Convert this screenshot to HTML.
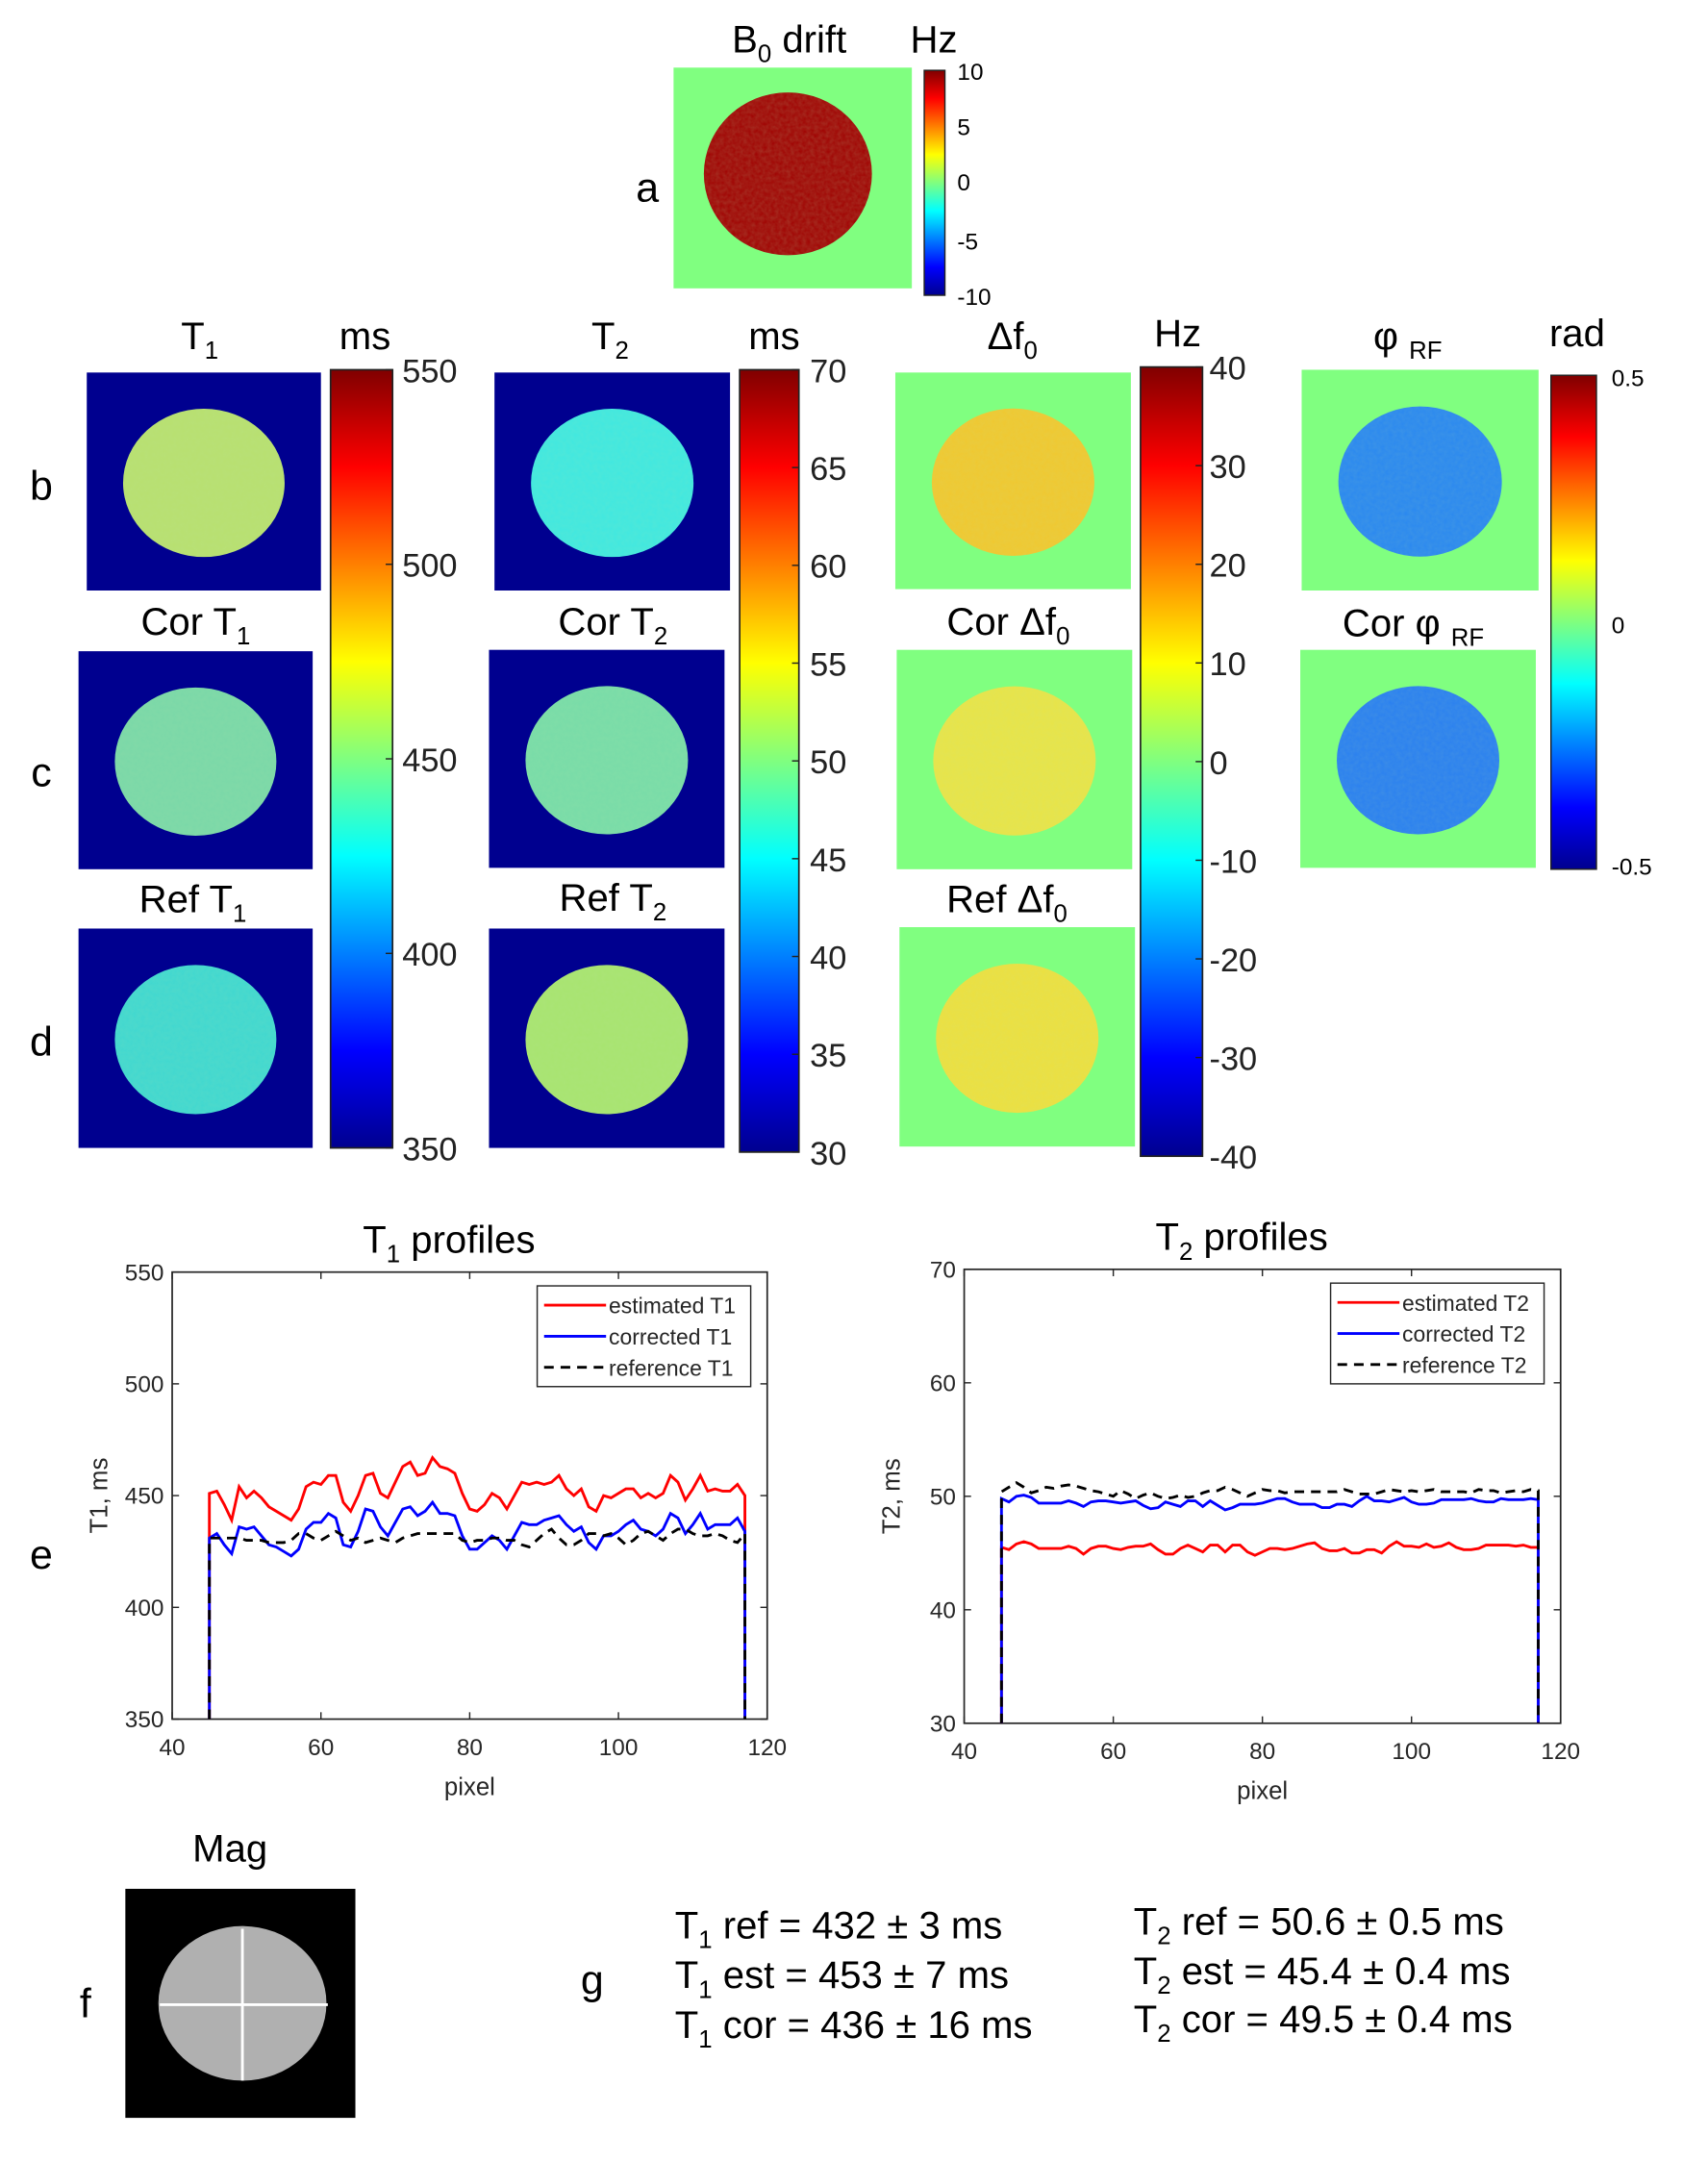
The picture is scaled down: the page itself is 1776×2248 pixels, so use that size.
<!DOCTYPE html>
<html><head><meta charset="utf-8"><style>
html,body{margin:0;padding:0;background:#fff;width:1776px;height:2248px;overflow:hidden}
svg text{font-family:"Liberation Sans",sans-serif}
</style></head><body>
<svg id="fig" width="1776" height="2248" viewBox="0 0 1240 1567" preserveAspectRatio="none" xmlns="http://www.w3.org/2000/svg">
<defs>
<linearGradient id="jet" x1="0" y1="1" x2="0" y2="0">
<stop offset="0" stop-color="#00008f"/><stop offset="0.125" stop-color="#0000ff"/><stop offset="0.375" stop-color="#00ffff"/><stop offset="0.625" stop-color="#ffff00"/><stop offset="0.875" stop-color="#ff0000"/><stop offset="1" stop-color="#800000"/>
</linearGradient>
<filter id="noise" x="0" y="0" width="100%" height="100%">
<feTurbulence type="fractalNoise" baseFrequency="0.35" numOctaves="2" seed="3"/>
<feColorMatrix type="matrix" values="0 0 0 0 0.5  0 0 0 0 0.8  0 0 0 0 0.4  0 0 0 0.35 0"/>
<feComposite in2="SourceGraphic" operator="in"/>
</filter>
</defs>

<g>
<text x="573" y="38" font-size="28" text-anchor="middle">B<tspan font-size="18" dy="7">0</tspan><tspan dy="-7"> drift</tspan></text>
<text x="678" y="38" font-size="28" text-anchor="middle">Hz</text>
<rect x="489" y="49" width="173" height="160" fill="#80ff80"/>
<ellipse cx="572" cy="126" rx="61" ry="59" fill="#a00000"/>
<ellipse cx="572" cy="126" rx="61" ry="59" fill="#b01000" filter="url(#noise)" opacity="0.6"/>
<rect x="671" y="51" width="15" height="163" fill="url(#jet)" stroke="#222" stroke-width="1"/>
<text x="695" y="58" font-size="17">10</text><text x="695" y="98" font-size="17">5</text><text x="695" y="138" font-size="17">0</text><text x="695" y="181" font-size="17">-5</text><text x="695" y="221" font-size="17">-10</text>
<text x="470" y="146" font-size="30" text-anchor="middle">a</text>
</g>

<g font-size="30" text-anchor="middle">
<text x="30" y="362">b</text>
<text x="30" y="570">c</text>
<text x="30" y="765">d</text>
<text x="30" y="1137">e</text>
<text x="62" y="1462">f</text>
<text x="430" y="1445">g</text>
</g>

<g id="maps"></g>

<g>
<text x="167" y="1349" font-size="28" text-anchor="middle">Mag</text>
<rect x="91" y="1369" width="167" height="166" fill="#000"/>
<ellipse cx="176" cy="1452" rx="61" ry="56" fill="#b0b0b0"/>
<line x1="176" y1="1398" x2="176" y2="1508" stroke="#fff" stroke-width="2"/>
<line x1="116" y1="1453" x2="238" y2="1453" stroke="#fff" stroke-width="2"/>
</g>

<g font-size="28">
<text x="490" y="1405">T<tspan font-size="18" dy="7">1</tspan><tspan dy="-7"> ref = 432 ± 3 ms</tspan></text>
<text x="490" y="1441">T<tspan font-size="18" dy="7">1</tspan><tspan dy="-7"> est = 453 ± 7 ms</tspan></text>
<text x="490" y="1477">T<tspan font-size="18" dy="7">1</tspan><tspan dy="-7"> cor = 436 ± 16 ms</tspan></text>
<text x="823" y="1402">T<tspan font-size="18" dy="7">2</tspan><tspan dy="-7"> ref = 50.6 ± 0.5 ms</tspan></text>
<text x="823" y="1438">T<tspan font-size="18" dy="7">2</tspan><tspan dy="-7"> est = 45.4 ± 0.4 ms</tspan></text>
<text x="823" y="1473">T<tspan font-size="18" dy="7">2</tspan><tspan dy="-7"> cor = 49.5 ± 0.4 ms</tspan></text>
</g>

<g id="plots"></g>
</svg>
<script>
const pixels = [];
for (let p = 45; p <= 117; p++) pixels.push(p);
const t1Estimated = [451,452,446,439,454,449,452,449,445,443,441,439,444,454,456,455,459,459,447,443,450,459,460,451,449,456,463,465,459,460,467,463,462,460,451,444,443,446,451,449,444,450,456,455,456,455,456,459,453,450,453,445,443,450,449,451,453,453,449,451,449,451,459,456,448,453,459,452,453,452,452,455,450];
const t1Corrected = [431,433,428,424,436,435,436,432,428,427,425,423,426,435,438,438,442,440,428,427,434,444,443,436,432,438,444,445,441,443,447,442,442,441,432,426,426,429,432,430,426,432,438,437,437,439,440,441,437,434,436,429,426,432,432,434,437,439,435,434,432,435,442,440,433,437,442,435,437,437,437,440,434];
const t1Reference = [431,431,431,431,431,430,430,430,429,429,429,430,433,433,431,430,432,434,432,430,431,429,430,431,430,429,431,432,433,433,433,433,433,433,430,429,430,430,431,431,430,430,428,427,430,433,435,431,428,428,430,433,433,432,433,431,428,430,433,434,432,430,433,435,435,433,432,432,433,432,430,429,433];
const t2Estimated = [45.5,45.3,45.8,46.0,45.8,45.4,45.4,45.4,45.4,45.6,45.4,44.9,45.4,45.6,45.6,45.4,45.3,45.5,45.6,45.6,45.8,45.3,44.9,44.9,45.4,45.7,45.4,45.1,45.7,45.7,45.1,45.7,45.7,45.1,44.8,45.1,45.4,45.4,45.3,45.4,45.6,45.8,45.9,45.4,45.2,45.2,45.4,45.0,45.0,45.3,45.3,45.0,45.6,46.0,45.6,45.6,45.5,45.8,45.5,45.6,45.9,45.5,45.3,45.3,45.4,45.7,45.7,45.7,45.7,45.6,45.7,45.5,45.5];
const t2Corrected = [49.8,49.5,50.0,50.1,49.9,49.4,49.4,49.4,49.4,49.6,49.4,49.1,49.5,49.6,49.6,49.5,49.4,49.5,49.6,49.2,48.9,49.0,49.5,49.3,49.1,49.6,49.6,49.1,49.6,49.2,48.8,49.0,49.3,49.3,49.3,49.4,49.6,49.8,49.8,49.5,49.3,49.3,49.3,49.0,49.0,49.3,49.3,49.1,49.6,50.0,49.6,49.6,49.5,49.7,49.9,49.5,49.3,49.3,49.4,49.7,49.7,49.7,49.7,49.8,49.6,49.5,49.5,49.8,49.7,49.7,49.7,49.8,49.7];
const t2Reference = [50.4,50.8,51.2,50.8,50.3,50.5,50.8,50.7,50.9,51.0,50.9,50.7,50.5,50.4,50.2,50.0,50.5,50.2,49.8,50.1,50.3,50.0,49.8,49.9,50.1,49.9,50.0,50.3,50.5,50.5,50.8,50.6,50.3,50.0,50.3,50.6,50.5,50.5,50.3,50.4,50.4,50.4,50.4,50.4,50.4,50.4,50.6,50.4,50.2,50.2,50.2,50.4,50.6,50.5,50.4,50.5,50.4,50.5,50.6,50.4,50.4,50.4,50.4,50.3,50.6,50.5,50.5,50.3,50.4,50.5,50.4,50.6,50.5];
const xTicks = [40,60,80,100,120];
const t1YTicks = [350,400,450,500,550];
const t2YTicks = [30,40,50,60,70];

const NS = 'http://www.w3.org/2000/svg';
function el(tag, attrs, parent, text) {
  const e = document.createElementNS(NS, tag);
  for (const k in attrs) e.setAttribute(k, attrs[k]);
  if (text !== undefined) e.textContent = text;
  parent.appendChild(e);
  return e;
}

const maps = document.getElementById('maps');
function mapImg(name, x, y, w, h, bg, fill) {
  const g = el('g', {}, maps);
  
  
  el('rect', {x:x, y:y, width:w, height:h, fill:bg}, g);
  el('ellipse', {cx:x+w/2, cy:y+h/2+1, rx:w*0.345, ry:h*0.34, fill:fill}, g);
  el('ellipse', {cx:x+w/2, cy:y+h/2+1, rx:w*0.345, ry:h*0.34, fill:fill, filter:'url(#noise)', opacity:0.35}, g);
}
function title(name, x, y, main, sub) {
  const t = el('text', {x:x, y:y, 'font-size':28, 'text-anchor':'middle'}, maps);
  
  
  t.textContent = main;
  el('tspan', {'font-size':18, dy:7}, t, sub);
}
function cbar(name, x, y, w, h, labels, lx, unit, ux, uy) {
  const g = el('g', {}, maps);
  
  
  el('rect', {x:x, y:y, width:w, height:h, fill:'url(#jet)', stroke:'#222', 'stroke-width':1.2}, g);
  labels.forEach((l, i) => {
    const yy = y + h * i / (labels.length - 1);
    el('line', {x1:x+w-5, x2:x+w, y1:yy, y2:yy, stroke:'#222'}, g);
    el('text', {x:lx, y:yy+9, 'font-size':24, fill:'#222'}, g, l);
  });
  el('text', {x:ux, y:uy, 'font-size':28, 'text-anchor':'middle'}, g, unit);
}
const DB = '#00008f', GR = '#80ff80';
title('t1-title', 145, 253, 'T', '1');
title('cor-t1-title', 142, 460, 'Cor T', '1');
title('ref-t1-title', 140, 661, 'Ref T', '1');
mapImg('t1-map', 63, 270, 170, 158, DB, '#b8e070');
mapImg('cor-t1-map', 57, 472, 170, 158, DB, '#7ad8a8');
mapImg('ref-t1-map', 57, 673, 170, 159, DB, '#40d8d0');
cbar('t1-colorbar', 240, 268, 45, 564, ['550','500','450','400','350'], 292, 'ms', 265, 253);

title('t2-title', 443, 253, 'T', '2');
title('cor-t2-title', 445, 460, 'Cor T', '2');
title('ref-t2-title', 445, 660, 'Ref T', '2');
mapImg('t2-map', 359, 270, 171, 158, DB, '#40e8e0');
mapImg('cor-t2-map', 355, 471, 171, 158, DB, '#78dca8');
mapImg('ref-t2-map', 355, 673, 171, 159, DB, '#a8e470');
cbar('t2-colorbar', 537, 268, 43, 567, ['70','65','60','55','50','45','40','35','30'], 588, 'ms', 562, 253);

title('df0-title', 735, 253, 'Δf', '0');
title('cor-df0-title', 732, 460, 'Cor Δf', '0');
title('ref-df0-title', 731, 661, 'Ref Δf', '0');
mapImg('df0-map', 650, 270, 171, 157, GR, '#f0c830');
mapImg('cor-df0-map', 651, 471, 171, 159, GR, '#e8e448');
mapImg('ref-df0-map', 653, 672, 171, 159, GR, '#ece040');
cbar('df0-colorbar', 828, 266, 45, 572, ['40','30','20','10','0','-10','-20','-30','-40'], 878, 'Hz', 855, 251);

title('phi-rf-title', 1022, 253, 'φ ', 'RF');
title('cor-phi-rf-title', 1026, 461, 'Cor φ ', 'RF');
mapImg('phi-rf-map', 945, 268, 172, 160, GR, '#2a88f0');
mapImg('cor-phi-rf-map', 944, 471, 171, 158, GR, '#2a80f0');
(function(){
  const g = el('g', {}, maps);
  
  
  el('rect', {x:1126, y:272, width:33, height:358, fill:'url(#jet)', stroke:'#222'}, g);
  el('text', {x:1170, y:280, 'font-size':17}, g, '0.5');
  el('text', {x:1170, y:459, 'font-size':17}, g, '0');
  el('text', {x:1170, y:634, 'font-size':17}, g, '-0.5');
  el('text', {x:1145, y:251, 'font-size':28, 'text-anchor':'middle'}, g, 'rad');
})();

const plots = document.getElementById('plots');
function plot(name, L, T, R, B, yTicks, est, cor, ref, sub, ylab, leg) {
  const g = el('g', {}, plots);
  
  
  const y0 = yTicks[0], y1 = yTicks[yTicks.length-1];
  const sx = v => L + (v - 40) / 80 * (R - L);
  const sy = v => B - (v - y0) / (y1 - y0) * (B - T);
  el('rect', {x:L, y:T, width:R-L, height:B-T, fill:'#fff', stroke:'#262626', 'stroke-width':1.2}, g);
  xTicks.forEach(t => {
    el('line', {x1:sx(t), x2:sx(t), y1:B, y2:B-5, stroke:'#262626'}, g);
    el('line', {x1:sx(t), x2:sx(t), y1:T, y2:T+5, stroke:'#262626'}, g);
    el('text', {x:sx(t), y:B+26, 'font-size':17, 'text-anchor':'middle', fill:'#262626'}, g, t);
  });
  yTicks.forEach(t => {
    el('line', {x1:L, x2:L+5, y1:sy(t), y2:sy(t), stroke:'#262626'}, g);
    el('line', {x1:R, x2:R-5, y1:sy(t), y2:sy(t), stroke:'#262626'}, g);
    el('text', {x:L-6, y:sy(t)+6, 'font-size':17, 'text-anchor':'end', fill:'#262626'}, g, t);
  });
  const line = (vals, color, dash, nm) => {
    let d = 'M' + sx(pixels[0]) + ',' + sy(y0);
    vals.forEach((v, i) => { d += ' L' + sx(pixels[i]) + ',' + sy(v); });
    d += ' L' + sx(pixels[pixels.length-1]) + ',' + sy(y0);
    const p = el('path', {d:d, fill:'none', stroke:color, 'stroke-width':2}, g);
    if (dash) p.setAttribute('stroke-dasharray', '7,5');
    
    
  };
  line(est, '#ff0000', false, 'estimated-line');
  line(cor, '#0000ff', false, 'corrected-line');
  line(ref, '#000000', true, 'reference-line');
  const tt = el('text', {x:(L+R)/2 - 15, y:T-14, 'font-size':28, 'text-anchor':'middle'}, g, 'T');
  el('tspan', {'font-size':18, dy:7}, tt, sub);
  el('tspan', {dy:-7}, tt, ' profiles');
  el('text', {x:(L+R)/2, y:B+55, 'font-size':18, 'text-anchor':'middle', fill:'#262626'}, g, 'pixel');
  el('text', {x:L-47, y:(T+B)/2, 'font-size':18, 'text-anchor':'middle', fill:'#262626', transform:'rotate(-90 '+(L-47)+' '+((T+B)/2)+')'}, g, ylab);
  const lg = el('g', {}, g);
  
  
  const lx = R - 167, ly = T + 10;
  el('rect', {x:lx, y:ly, width:155, height:73, fill:'#fff', stroke:'#262626', 'stroke-width':1}, lg);
  leg.forEach((t, i) => {
    const yy = ly + 14 + i * 22.5;
    const l = el('line', {x1:lx+5, x2:lx+50, y1:yy, y2:yy, stroke:['#ff0000','#0000ff','#000'][i], 'stroke-width':2}, lg);
    if (i === 2) l.setAttribute('stroke-dasharray', '7,5');
    el('text', {x:lx+52, y:yy+6, 'font-size':16, fill:'#262626'}, lg, t);
  });
}
plot('t1-profiles-chart', 125, 922, 557, 1246, t1YTicks, t1Estimated, t1Corrected, t1Reference, '1', 'T1, ms', ['estimated T1','corrected T1','reference T1']);
plot('t2-profiles-chart', 700, 920, 1133, 1249, t2YTicks, t2Estimated, t2Corrected, t2Reference, '2', 'T2, ms', ['estimated T2','corrected T2','reference T2']);
</script>
</body></html>
